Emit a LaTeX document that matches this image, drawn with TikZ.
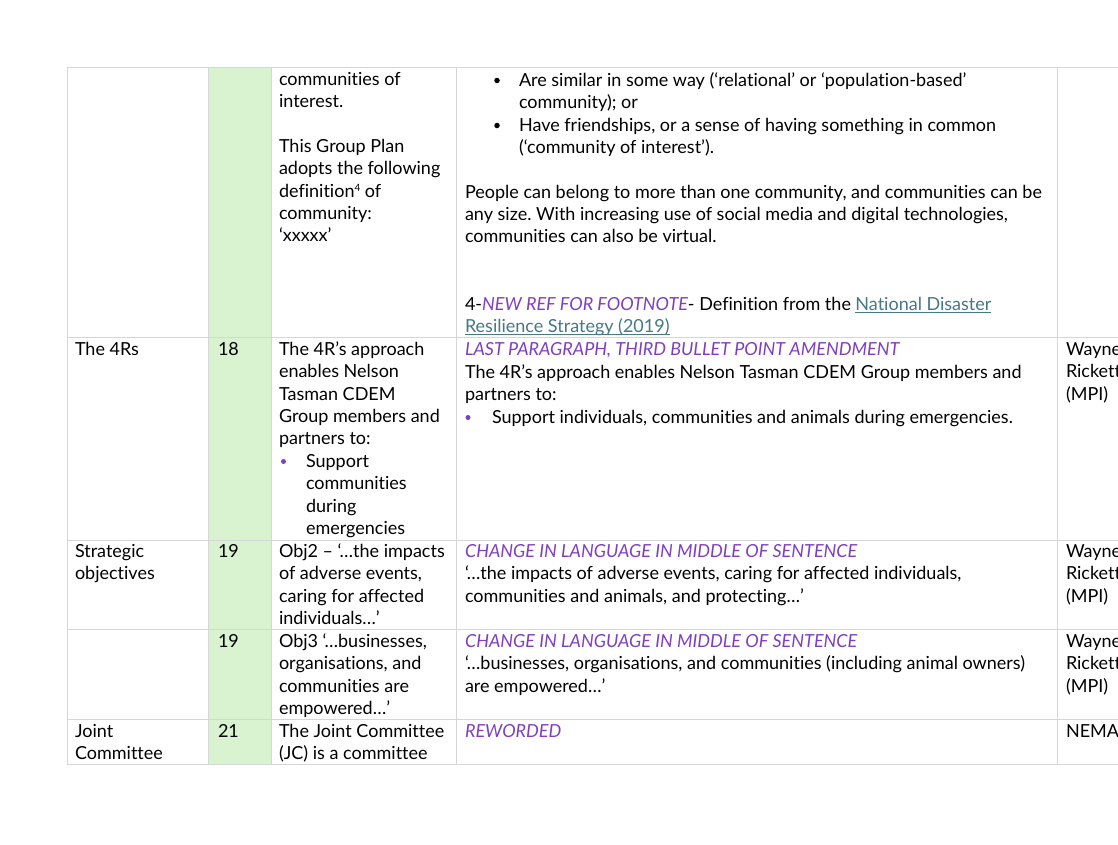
\documentclass[tikz,border=0pt]{standalone}
\usepackage{fontspec}
\setmainfont{Lato}[Ligatures=NoCommon]
\frenchspacing
\definecolor{gridc}{HTML}{D6D6D6}
\definecolor{greenc}{HTML}{D9F2D0}
\definecolor{purp}{HTML}{7F3FBF}
\definecolor{linkc}{HTML}{467886}
\begin{document}
\begin{tikzpicture}[x=1pt,y=-1pt,
  txt/.style={anchor=base west,inner sep=0pt,outer sep=0pt,font=\fontsize{18}{22}\selectfont,text=black},
  ptxt/.style={txt,text=purp,font=\fontsize{18}{22}\selectfont\itshape},
  gridline/.style={draw=gridc,line width=1pt},
  pbul/.style={circle,fill=purp,inner sep=0pt,minimum size=5pt},
  bbul/.style={circle,fill=black,inner sep=0pt,minimum size=5.5pt}]
\useasboundingbox (0,0) rectangle (1118,844);
\clip (0,0) rectangle (1118,844);
\fill[white] (0,0) rectangle (1118,844);
% green column
\fill[greenc] (208,67) rectangle (271,764);
% grid
\foreach \yy in {67,337,540,629,719,764} \draw[gridline] (67,\yy) -- (1118,\yy);
\foreach \xx in {67,208,271,456,1057} \draw[gridline] (\xx,67) -- (\xx,764);

% ---------- Row 1
\node[txt] (a1) at (279,85) {communities of};
\node[txt] (a2) at (279,107) {interest.};
\node[txt] (a3) at (279,152) {This Group Plan};
\node[txt] (a4) at (279,174) {adopts the following};
\node[txt] (a5) at (279,197) {definition{\fontsize{10}{12}\selectfont\raisebox{6pt}{4}} of};
\node[txt] (a6) at (279,219) {community:};
\node[txt] (a7) at (279,241) {‘xxxxx’};

\node[bbul] (b1d) at (497,80.5) {};
\node[txt] (b1) at (519,86) {Are similar in some way (‘relational’ or ‘population-based’};
\node[txt] (b2) at (519,108) {community); or};
\node[bbul] (b3d) at (497,125.5) {};
\node[txt] (b3) at (519,131) {Have friendships, or a sense of having something in common};
\node[txt] (b4) at (519,153) {(‘community of interest’).};
\node[txt] (b5) at (465,198) {People can belong to more than one community, and communities can be};
\node[txt] (b6) at (465,220) {any size. With increasing use of social media and digital technologies,};
\node[txt] (b7) at (465,242) {communities can also be virtual.};
\node[txt] (b8) at (465,310) {4-{\color{purp}\itshape NEW REF FOR FOOTNOTE}- Definition from the};
\node[txt,text=linkc,xshift=4.5pt] (b9) at (b8.base east) {National Disaster};
\node[txt,text=linkc] (b10) at (465,332) {Resilience Strategy (2019)};
\draw[linkc,line width=0.8pt] ([yshift=-2.5pt]b9.base west) -- ([yshift=-2.5pt]b9.base east);
\draw[linkc,line width=0.8pt] ([yshift=-2.5pt]b10.base west) -- ([yshift=-2.5pt]b10.base east);

% ---------- Row 2
\node[txt] (c1) at (75,355) {The 4Rs};
\node[txt] (c2) at (218,355) {18};
\node[txt] (c3) at (279,355) {The 4R’s approach};
\node[txt] (c4) at (279,377) {enables Nelson};
\node[txt] (c5) at (279,400) {Tasman CDEM};
\node[txt] (c6) at (279,422) {Group members and};
\node[txt] (c7) at (279,444) {partners to:};
\node[pbul] (c8d) at (283.5,461.5) {};
\node[txt] (c8) at (306,467) {Support};
\node[txt] (c9) at (306,489) {communities};
\node[txt] (c10) at (306,512) {during};
\node[txt] (c11) at (306,534) {emergencies};
\node[ptxt] (d1) at (465,355) {LAST PARAGRAPH, THIRD BULLET POINT AMENDMENT};
\node[txt] (d2) at (465,378) {The 4R’s approach enables Nelson Tasman CDEM Group members and};
\node[txt] (d3) at (465,400) {partners to:};
\node[pbul] (d4d) at (468,417.5) {};
\node[txt] (d4) at (492,423) {Support individuals, communities and animals during emergencies.};
\node[txt] (e1) at (1066,355) {Wayne};
\node[txt] (e2) at (1066,377) {Rickett};
\node[txt] (e3) at (1066,400) {(MPI)};

% ---------- Row 3
\node[txt] (f1) at (75,557) {Strategic};
\node[txt] (f2) at (75,579) {objectives};
\node[txt] (f3) at (218,557) {19};
\node[txt] (f4) at (279,557) {Obj2 – ‘…the impacts};
\node[txt] (f5) at (279,579) {of adverse events,};
\node[txt] (f6) at (279,602) {caring for affected};
\node[txt] (f7) at (279,624) {individuals…’};
\node[ptxt] (g1) at (465,557) {CHANGE IN LANGUAGE IN MIDDLE OF SENTENCE};
\node[txt] (g2) at (465,579) {‘…the impacts of adverse events, caring for affected individuals,};
\node[txt] (g3) at (465,602) {communities and animals, and protecting…’};
\node[txt] (h1) at (1066,557) {Wayne};
\node[txt] (h2) at (1066,579) {Rickett};
\node[txt] (h3) at (1066,602) {(MPI)};

% ---------- Row 4
\node[txt] (i1) at (218,647) {19};
\node[txt] (i2) at (279,647) {Obj3 ‘…businesses,};
\node[txt] (i3) at (279,669) {organisations, and};
\node[txt] (i4) at (279,692) {communities are};
\node[txt] (i5) at (279,714) {empowered…’};
\node[ptxt] (j1) at (465,647) {CHANGE IN LANGUAGE IN MIDDLE OF SENTENCE};
\node[txt] (j2) at (465,669) {‘…businesses, organisations, and communities (including animal owners)};
\node[txt] (j3) at (465,692) {are empowered…’};
\node[txt] (k1) at (1066,647) {Wayne};
\node[txt] (k2) at (1066,669) {Rickett};
\node[txt] (k3) at (1066,692) {(MPI)};

% ---------- Row 5
\node[txt] (l1) at (75,737) {Joint};
\node[txt] (l2) at (75,759) {Committee};
\node[txt] (l3) at (218,737) {21};
\node[txt] (l4) at (279,737) {The Joint Committee};
\node[txt] (l5) at (279,759) {(JC) is a committee};
\node[ptxt] (m1) at (465,737) {REWORDED};
\node[txt] (m2) at (1066,737) {NEMA};
\end{tikzpicture}
\end{document}
